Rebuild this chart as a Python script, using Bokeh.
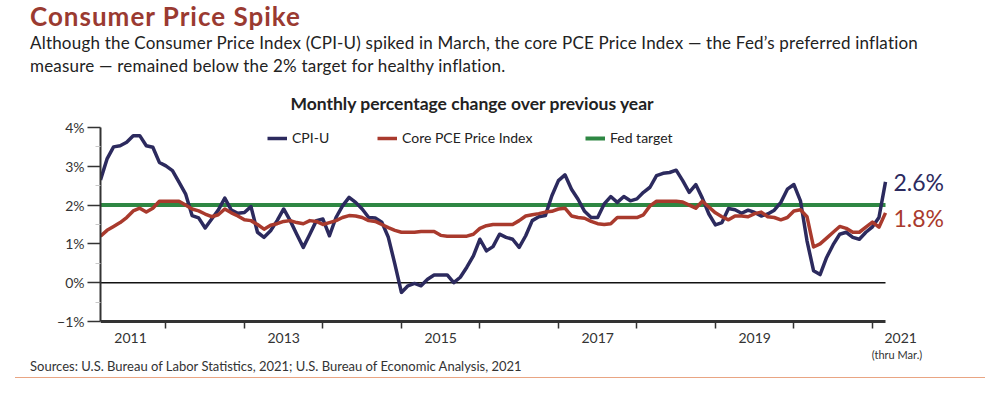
from bokeh.plotting import figure
from bokeh.models import Range1d, FixedTicker, Label, Legend, LegendItem, Div
from bokeh.layouts import column
from bokeh.embed import file_html
from bokeh.resources import INLINE

# ---------------- data (monthly, Mar 2011 .. Mar 2021) ----------------
start_year = 2011
start_month = 3

cpi_u = [
    2.65, 3.19, 3.50, 3.53, 3.62, 3.79, 3.79, 3.53, 3.49, 3.10,
    3.01, 2.89, 2.59, 2.29, 1.73, 1.67, 1.41, 1.64, 1.87, 2.18,
    1.87, 1.79, 1.81, 1.96, 1.30, 1.17, 1.34, 1.60, 1.90, 1.60,
    1.25, 0.91, 1.25, 1.60, 1.64, 1.21, 1.68, 1.98, 2.20, 2.07,
    1.90, 1.68, 1.67, 1.56, 1.17, 0.48, -0.25, -0.08, -0.02, -0.08,
    0.09, 0.20, 0.20, 0.20, 0.00, 0.14, 0.40, 0.69, 1.12, 0.82,
    0.93, 1.25, 1.17, 1.12, 0.91, 1.21, 1.60, 1.70, 1.73, 2.24,
    2.63, 2.78, 2.41, 2.15, 1.84, 1.68, 1.68, 2.03, 2.22, 2.07,
    2.22, 2.11, 2.16, 2.33, 2.46, 2.76, 2.82, 2.84, 2.90, 2.63,
    2.33, 2.53, 2.18, 1.77, 1.49, 1.55, 1.91, 1.88, 1.79, 1.87,
    1.81, 1.72, 1.77, 1.87, 2.07, 2.41, 2.53, 2.11, 1.08, 0.31,
    0.21, 0.65, 0.98, 1.25, 1.30, 1.17, 1.12, 1.30, 1.44, 1.68,
    2.60,
]

core_pce = [
    1.20, 1.35, 1.45, 1.55, 1.68, 1.85, 1.92, 1.82, 1.92, 2.10,
    2.10, 2.10, 2.10, 2.00, 1.90, 1.85, 1.77, 1.70, 1.75, 1.90,
    1.80, 1.72, 1.62, 1.60, 1.50, 1.38, 1.48, 1.52, 1.58, 1.60,
    1.55, 1.52, 1.60, 1.58, 1.50, 1.55, 1.60, 1.68, 1.73, 1.72,
    1.68, 1.60, 1.58, 1.50, 1.42, 1.35, 1.30, 1.30, 1.30, 1.32,
    1.32, 1.32, 1.22, 1.20, 1.20, 1.20, 1.20, 1.25, 1.40, 1.47,
    1.50, 1.50, 1.50, 1.50, 1.60, 1.72, 1.75, 1.78, 1.82, 1.84,
    1.90, 1.92, 1.72, 1.68, 1.66, 1.58, 1.52, 1.50, 1.52, 1.68,
    1.68, 1.68, 1.68, 1.75, 1.98, 2.10, 2.10, 2.10, 2.10, 2.08,
    2.00, 1.92, 2.10, 1.95, 1.80, 1.70, 1.62, 1.72, 1.72, 1.70,
    1.78, 1.82, 1.70, 1.68, 1.62, 1.68, 1.85, 1.88, 1.70, 0.92,
    1.00, 1.15, 1.30, 1.45, 1.40, 1.30, 1.30, 1.43, 1.56, 1.43,
    1.80,
]

fed_target = 2.0
zero_line = 0.0

y_ticks = [-1, 0, 1, 2, 3, 4]
y_minor = [-0.5, 0.5, 1.5, 2.5, 3.5]
y_tick_labels = ["\u22121%", "0%", "1%", "2%", "3%", "4%"]
year_label_pos = [2011.55, 2013.5, 2015.5, 2017.5, 2019.5, 2021.36]
year_labels = ["2011", "2013", "2015", "2017", "2019", "2021"]
year_bounds = list(range(2012, 2022))
series_names = ["CPI-U", "Core PCE Price Index", "Fed target"]
end_labels = ["2.6%", "1.8%"]

title_text = "Consumer Price Spike"
subtitle_1 = ("Although the Consumer Price Index (CPI-U) spiked in March, the core PCE "
              "Price Index \u2014 the Fed\u2019s preferred inflation")
subtitle_2 = "measure \u2014 remained below the 2% target for healthy inflation."
chart_subtitle = "Monthly percentage change over previous year"
thru_note = "(thru Mar.)"
source_text = ("Sources: U.S. Bureau of Labor Statistics, 2021; "
               "U.S. Bureau of Economic Analysis, 2021")

# ---------------- styling ----------------
FONT = "Lato"
NAVY = "#2c2a5e"
RED = "#a93a2d"
GREEN = "#2e8743"
AXIS = "#333333"
TITLE_RED = "#9a3a31"

n = len(cpi_u)
x = [start_year + (start_month - 1 + i) / 12 for i in range(n)]
x0, x1 = x[0], x[-1]

# page layout (pixels)
PAGE_W = 995
HEAD_H = 118
FIG_TOP, FIG_BOT = HEAD_H, 346
FRAME_L, AXIS_R, FRAME_R = 100, 885, 960
FRAME_T, FRAME_B = 127, 323
PX_PER_PCT = 38.8
x_end = x0 + (FRAME_R - FRAME_L) * (x1 - x0) / (AXIS_R - FRAME_L)
y_start = 4 - (FRAME_B - FRAME_T) / PX_PER_PCT


def px(xp):
    return x0 + (xp - FRAME_L) * (x1 - x0) / (AXIS_R - FRAME_L)


FIG_H = FIG_BOT - FIG_TOP
p = figure(
    width=PAGE_W, height=FIG_H,
    x_range=Range1d(x0, x_end), y_range=Range1d(y_start, 4),
    output_backend="svg", toolbar_location=None,
    min_border_left=FRAME_L, min_border_right=PAGE_W - FRAME_R,
    min_border_top=FRAME_T - FIG_TOP, min_border_bottom=FIG_BOT - FRAME_B,
    background_fill_color="white", border_fill_color="white",
    outline_line_color=None,
)
p.title_location = None
p.grid.visible = False

# x axis (line drawn separately so that it stops at the last month)
xa = p.xaxis[0]
xa.ticker = FixedTicker(ticks=year_label_pos, minor_ticks=year_bounds)
xa.major_label_overrides = dict(zip(year_label_pos, year_labels))
xa.major_tick_line_color = None
xa.major_tick_out = 0
xa.major_tick_in = 0
xa.minor_tick_line_color = AXIS
xa.minor_tick_line_width = 1.5
xa.minor_tick_out = 5
xa.minor_tick_in = 2
xa.axis_line_color = None
xa.major_label_text_font = FONT
xa.major_label_text_font_size = "14px"
xa.major_label_text_color = AXIS
xa.major_label_standoff = 4

# y axis
ya = p.yaxis[0]
ya.bounds = (y_ticks[0], y_ticks[-1])
ya.ticker = FixedTicker(ticks=y_ticks, minor_ticks=y_minor)
ya.major_label_overrides = dict(zip(y_ticks, y_tick_labels))
ya.major_tick_out = 13
ya.major_tick_in = 0
ya.major_tick_line_color = AXIS
ya.major_tick_line_width = 1.5
ya.minor_tick_out = 5
ya.minor_tick_in = 0
ya.minor_tick_line_color = "#c8c8c8"
ya.axis_line_color = AXIS
ya.axis_line_width = 2
ya.major_label_text_font = FONT
ya.major_label_text_font_size = "14px"
ya.major_label_text_color = AXIS
ya.major_label_standoff = 3

# reference lines
p.line([x0, x1], [y_ticks[0], y_ticks[0]], line_color=AXIS, line_width=3)
p.line([x0, x1], [zero_line, zero_line], line_color="#111111", line_width=1.5)

# series
r_fed = p.line([x0, x1], [fed_target, fed_target], line_color=GREEN, line_width=4)
r_cpi = p.line(x, cpi_u, line_color=NAVY, line_width=3.5, line_join="round")
r_pce = p.line(x, core_pce, line_color=RED, line_width=3.5, line_join="round")

# legends (one per item, to match the spacing)
for name, rend, xoff in zip(series_names, [r_cpi, r_pce, r_fed], [167, 277, 485]):
    leg = Legend(
        items=[LegendItem(label=name, renderers=[rend])],
        location=(xoff, 177), orientation="horizontal",
        padding=0, margin=0, border_line_color=None,
        background_fill_alpha=0, glyph_width=20, glyph_height=12,
        label_height=12, label_standoff=5,
        label_text_font=FONT, label_text_font_size="14px",
        label_text_color="#222222",
    )
    p.add_layout(leg)

# end-of-line value labels
p.add_layout(Label(x=px(893), y=cpi_u[-1], text=end_labels[0], text_font=FONT,
                   text_font_size="23px", text_color=NAVY, text_baseline="middle"))
p.add_layout(Label(x=px(893), y=core_pce[-1] - 0.12, text=end_labels[1], text_font=FONT,
                   text_font_size="23px", text_color=RED, text_baseline="middle"))


def pos_div(left, top, size, text, color="#222222", weight="normal", extra=""):
    return (f'<div style="position:absolute;left:{left}px;top:{top}px;'
            f'font-size:{size}px;line-height:1;font-weight:{weight};color:{color};'
            f'white-space:nowrap;{extra}">{text}</div>')


head_html = (
    f'<div style="position:relative;width:{PAGE_W}px;height:{HEAD_H}px;'
    f'font-family:{FONT},sans-serif;overflow:visible;">'
    + pos_div(30, 3, 26, title_text, TITLE_RED, "bold", "letter-spacing:1px;")
    + pos_div(30, 33.5, 17, subtitle_1, extra="letter-spacing:0.2px;")
    + pos_div(30, 57, 17, subtitle_2, extra="letter-spacing:0.2px;")
    + pos_div(0, 94.5, 17.5, chart_subtitle, "#222222", "bold",
              "width:944px;text-align:center;")
    + "</div>"
)

FOOT_H = 393 - FIG_BOT
foot_html = (
    f'<div style="position:relative;width:{PAGE_W}px;height:{FOOT_H}px;'
    f'font-family:{FONT},sans-serif;overflow:visible;">'
    + pos_div(847, 3, 11, thru_note, AXIS, "normal", "width:100px;text-align:center;")
    + pos_div(30, 14, 13, source_text, AXIS)
    + f'<div style="position:absolute;left:15px;top:31px;width:970px;height:0;'
      f'border-top:1.5px solid #e9a583;"></div>'
    + "</div>"
)

header = Div(text=head_html, width=PAGE_W, height=HEAD_H, margin=0)
footer = Div(text=foot_html, width=PAGE_W, height=FOOT_H, margin=0)

layout = column(header, p, footer, spacing=0)
open("out.html", "w").write(file_html(layout, INLINE))
